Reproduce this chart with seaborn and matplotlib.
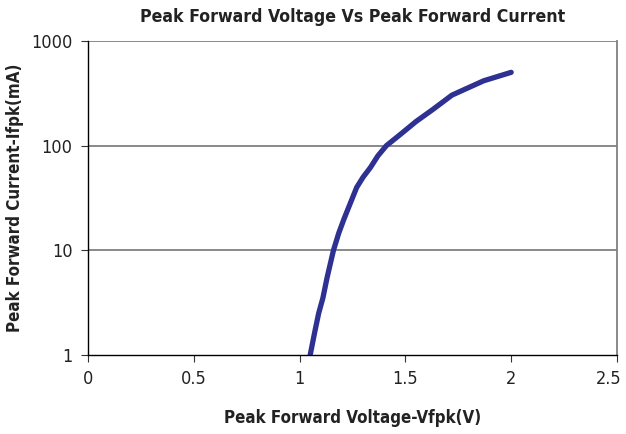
import numpy as np
import pandas as pd
import matplotlib
matplotlib.use('Agg')
import matplotlib.pyplot as plt
import seaborn as sns
from matplotlib import font_manager
from matplotlib.transforms import ScaledTranslation
from matplotlib.ticker import FixedLocator, FixedFormatter, NullLocator

# values
voltage = [1.05, 1.07, 1.09, 1.11, 1.13, 1.16, 1.185, 1.21, 1.245, 1.27, 1.30, 1.335,
           1.37, 1.41, 1.48, 1.55, 1.63, 1.72, 1.87, 2.00]
current = [1, 1.6, 2.5, 3.5, 5.5, 10, 14.6, 20, 30, 40, 50, 62,
           80, 100, 130, 170, 222, 304, 417, 502]

x_ticks = [0, 0.5, 1, 1.5, 2, 2.5]
x_tick_labels = ['0', '0.5', '1', '1.5', '2', '2.5']
y_ticks = [1, 10, 100, 1000]
y_tick_labels = ['1', '10', '100', '1000']

sns.set_style('white')
names = {f.name for f in font_manager.fontManager.ttflist}
if 'Liberation Sans Narrow' in names:
    plt.rcParams['font.family'] = ['Liberation Sans Narrow', 'DejaVu Sans']
else:
    plt.rcParams['font.family'] = ['DejaVu Sans']
    plt.rcParams['font.stretch'] = 'condensed'

df = pd.DataFrame({'Vfpk': voltage, 'Ifpk': current})

fig = plt.figure(figsize=(6.26, 4.34), dpi=100)
ax = fig.add_axes([0.1406, 0.182, 0.845, 0.7235])

sns.lineplot(data=df, x='Vfpk', y='Ifpk', ax=ax, color='#2E3192', linewidth=3.8,
             sort=False, estimator=None)

ax.set_yscale('log')
ax.set_xlim(0, 2.5)
ax.set_ylim(1, 1000)
ax.xaxis.set_major_locator(FixedLocator(x_ticks))
ax.xaxis.set_major_formatter(FixedFormatter(x_tick_labels))
ax.yaxis.set_major_locator(FixedLocator(y_ticks))
ax.yaxis.set_major_formatter(FixedFormatter(y_tick_labels))
ax.yaxis.set_minor_locator(NullLocator())

for y in y_ticks[1:]:
    ax.axhline(y, color='#808080', linewidth=1.3, zorder=0)

for side in ['left', 'bottom']:
    ax.spines[side].set_color('#000000')
    ax.spines[side].set_linewidth(1.0)
ax.spines['top'].set_visible(False)
ax.spines['right'].set_color('#808080')
ax.spines['right'].set_linewidth(1.3)

ax.tick_params(axis='both', direction='out', length=5, width=0.8, color='#333333',
               labelsize=13, labelcolor='#222222', pad=6, left=True, bottom=True)

# keep the last x label inside the canvas, as in the reference
last = ax.get_xticklabels()[-1]
last.set_horizontalalignment('right')
last.set_transform(last.get_transform() + ScaledTranslation(0.05, 0, fig.dpi_scale_trans))

ax.set_xlabel('Peak Forward Voltage-Vfpk(V)', fontsize=12.2, fontweight='bold',
              color='#222222', labelpad=15)
ax.set_ylabel('Peak Forward Current-Ifpk(mA)', fontsize=12.2, fontweight='bold',
              color='#222222', labelpad=5)
ax.set_title('Peak Forward Voltage Vs Peak Forward Current', fontsize=12.7,
             fontweight='bold', color='#222222', pad=14)

fig.savefig('out.png', dpi=100)
